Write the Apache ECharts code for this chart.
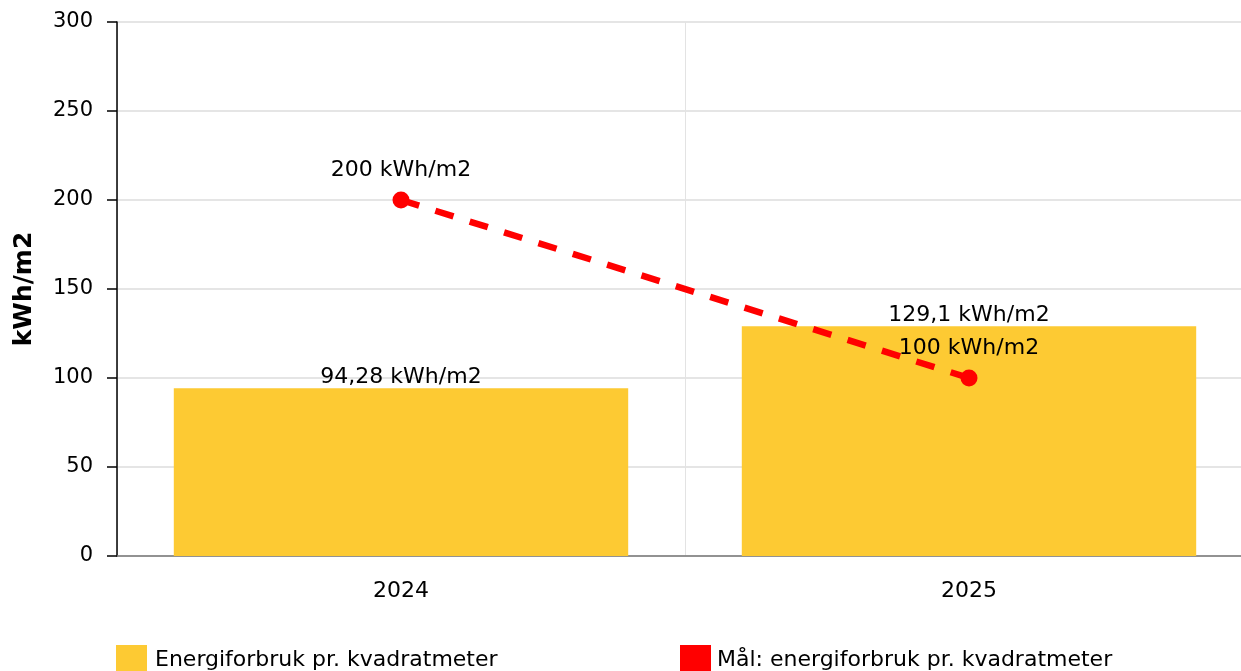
<!DOCTYPE html>
<html>
<head>
<meta charset="utf-8">
<script src="https://cdn.jsdelivr.net/npm/echarts@6/dist/echarts.min.js"></script>
<style>html,body{margin:0;padding:0;background:#fff;overflow:hidden}#c{width:1253px;height:671px}</style>
</head>
<body>
<div id="c"></div>
<script>
const categories = ['2024', '2025'];
const usageValues = [94.28, 129.1];
const targetValues = [200, 100];
const usageName = 'Energiforbruk pr. kvadratmeter';
const targetName = 'Mål: energiforbruk pr. kvadratmeter';
const yAxisName = 'kWh/m2';

const fmt = v => String(v).replace('.', ',') + ' kWh/m2';
const FONT = 'DejaVu Sans';
const chart = echarts.init(document.getElementById('c'));
chart.setOption({
  animation: false,
  textStyle: { fontFamily: FONT },
  grid: { left: 117, right: 0, top: 22, bottom: 115 },
  legend: [
    { data: [usageName], left: 111, top: 640, itemWidth: 31, itemHeight: 30, itemGap: 0, icon: 'rect',
      textStyle: { fontFamily: FONT, fontSize: 22, color: '#000', padding: [0, 0, 0, 3] } },
    { data: [targetName], left: 675, top: 640, itemWidth: 31, itemHeight: 30, icon: 'rect',
      textStyle: { fontFamily: FONT, fontSize: 22, color: '#000', padding: [0, 0, 0, 1] } }
  ],
  xAxis: {
    type: 'category', data: categories,
    axisLine: { lineStyle: { color: '#777', width: 1.5 } },
    axisTick: { alignWithLabel: true, length: 8, lineStyle: { color: '#aaa' } },
    axisLabel: { fontSize: 22, color: '#000', margin: 24, fontFamily: FONT },
    splitLine: { show: true, lineStyle: { color: '#e3e3e3' } }
  },
  yAxis: {
    type: 'value', min: 0, max: 300, interval: 50,
    name: yAxisName, nameLocation: 'middle', nameGap: 80, nameRotate: 90,
    nameTextStyle: { fontSize: 25, fontWeight: 'bold', color: '#000', fontFamily: FONT },
    axisLine: { show: true, lineStyle: { color: '#000', width: 1.5 } },
    axisTick: { show: true, length: 10, lineStyle: { color: '#000', width: 1.5 } },
    axisLabel: { fontSize: 21, color: '#000', margin: 24, fontFamily: FONT },
    splitLine: { lineStyle: { color: '#dcdcdc', width: 1.5 } }
  },
  series: [
    { name: usageName, type: 'bar', data: usageValues, barWidth: '80%',
      itemStyle: { color: '#FDCA33' },
      label: { show: true, position: 'top', distance: 0, fontSize: 22, color: '#000', fontFamily: FONT,
        formatter: p => fmt(p.value) } },
    { name: targetName, type: 'line', data: targetValues,
      symbol: 'circle', symbolSize: 17,
      itemStyle: { color: '#FF0000' },
      lineStyle: { color: '#FF0000', width: 6.5, type: [19, 17] },
      label: { show: true, position: 'top', distance: 10, fontSize: 22, color: '#000', fontFamily: FONT,
        formatter: p => fmt(p.value) } }
  ]
});
</script>
</body>
</html>
